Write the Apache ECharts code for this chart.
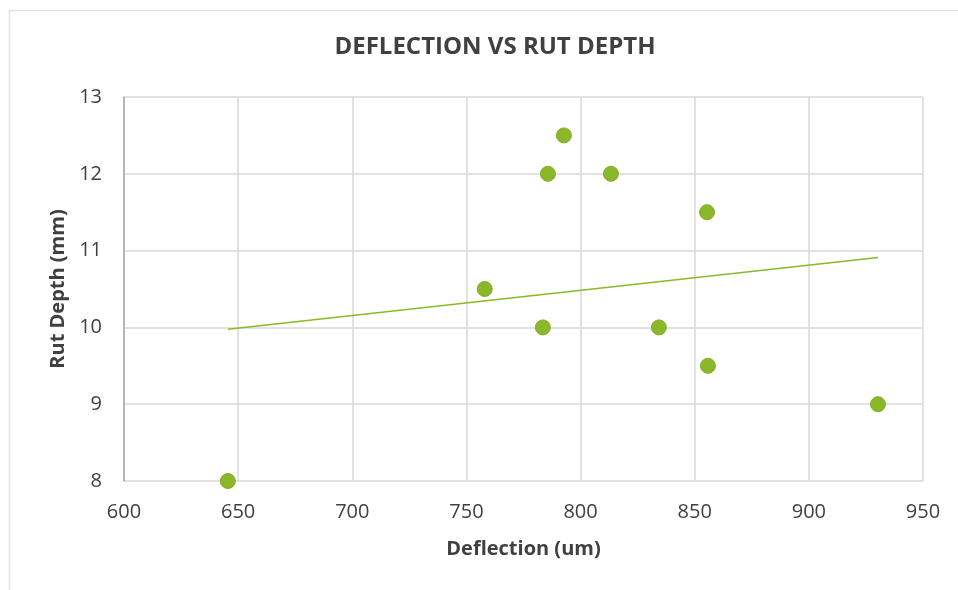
<!DOCTYPE html>
<html>
<head>
<meta charset="utf-8">
<script src="https://cdn.jsdelivr.net/npm/echarts@6/dist/echarts.min.js"></script>
<style>html,body{margin:0;padding:0;background:#fff;}#c{width:958px;height:590px;}</style>
</head>
<body>
<div id="c"></div>
<script>
const titleText = 'DEFLECTION VS RUT DEPTH';
const xName = 'Deflection (um)';
const yName = 'Rut Depth (mm)';
const deflection = [645.5, 758, 783.5, 785.7, 792.7, 813.3, 834.3, 855.4, 855.8, 930.3];
const rutDepth = [8, 10.5, 10, 12, 12.5, 12, 10, 11.5, 9.5, 9];
const xTicks = [600, 650, 700, 750, 800, 850, 900, 950];
const yTicks = [8, 9, 10, 11, 12, 13];

const n = deflection.length;
const mx = deflection.reduce((a, b) => a + b, 0) / n;
const my = rutDepth.reduce((a, b) => a + b, 0) / n;
let sxy = 0, sxx = 0;
for (let i = 0; i < n; i++) { sxy += (deflection[i] - mx) * (rutDepth[i] - my); sxx += (deflection[i] - mx) ** 2; }
const slope = sxy / sxx, intercept = my - slope * mx;
const xMinD = Math.min(...deflection), xMaxD = Math.max(...deflection);
const trend = [[xMinD, intercept + slope * xMinD], [xMaxD, intercept + slope * xMaxD]];

const font = '"Open Sans", "Liberation Sans", sans-serif';
const chart = echarts.init(document.getElementById('c'));
chart.setOption({
  animation: false,
  backgroundColor: '#fff',
  graphic: [{
    type: 'rect', left: 7, top: 8, shape: { width: 1000, height: 700 },
    style: { fill: 'none', stroke: '#e2e2e2', lineWidth: 1.5 }, silent: true
  }],
  title: {
    text: titleText, left: 490, top: 30, textAlign: 'center',
    textStyle: { fontFamily: font, fontSize: 24, fontWeight: 'bold', color: '#404040' }
  },
  grid: { left: 124, right: 35, top: 97, bottom: 109, containLabel: false },
  xAxis: {
    type: 'value', min: xTicks[0], max: xTicks[xTicks.length - 1], interval: 50,
    name: xName, nameLocation: 'middle', nameGap: 58,
    nameTextStyle: { fontFamily: font, fontSize: 20, fontWeight: 'bold', color: '#404040' },
    axisLine: { show: false }, axisTick: { show: false },
    axisLabel: { fontFamily: font, fontSize: 20, color: '#404040', margin: 21 },
    splitLine: { show: true, lineStyle: { color: '#d9d9d9', width: 1.5 } }
  },
  yAxis: {
    type: 'value', min: yTicks[0], max: yTicks[yTicks.length - 1], interval: 1,
    name: yName, nameLocation: 'middle', nameGap: 49,
    nameTextStyle: { fontFamily: font, fontSize: 20, fontWeight: 'bold', color: '#404040' },
    axisLine: { show: true, lineStyle: { color: '#a6a6a6', width: 1.5 } }, axisTick: { show: false },
    axisLabel: { fontFamily: font, fontSize: 20, color: '#404040', margin: 22 },
    splitLine: { show: true, lineStyle: { color: '#d9d9d9', width: 1.5 } }
  },
  series: [
    {
      type: 'line', data: trend, symbol: 'none', silent: true,
      lineStyle: { color: '#8cb828', width: 1.5, opacity: 1 }, z: 2
    },
    {
      type: 'scatter', data: deflection.map((x, i) => [x, rutDepth[i]]),
      symbolSize: 15, itemStyle: { color: '#8ab82a', borderColor: '#84ad22', borderWidth: 1, opacity: 1 }, z: 3
    }
  ]
});
</script>
</body>
</html>
